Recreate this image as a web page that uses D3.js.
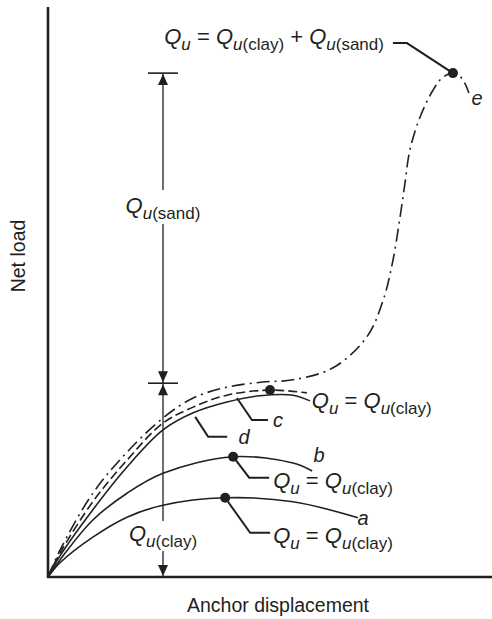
<!DOCTYPE html>
<html><head><meta charset="utf-8">
<script src="https://cdn.jsdelivr.net/npm/d3@7"></script>
<style>
html,body{margin:0;padding:0;background:#fff;}
svg{display:block;}
text{font-family:"Liberation Sans",Arial,Helvetica,sans-serif;fill:#231f20;}
</style></head>
<body>
<svg id="chart" width="492" height="619"></svg>
<script>
// ---- data (arbitrary units: displacement 0-100, load 0-100) ----
const curveA_x = [0, 2.7, 10.1, 17.8, 25.9, 39.9, 55.2, 69.8];
const curveA_y = [0, 2.5, 7.0, 10.5, 12.6, 13.9, 13.2, 10.4];
const curveB_x = [0, 2.7, 10.1, 17.8, 25.9, 41.7, 55.2, 59.5];
const curveB_y = [0, 3.0, 10.0, 14.7, 18.2, 21.1, 20.0, 18.6];
const curveC_x = [0, 2.7, 10.1, 17.8, 25.9, 32.7, 40.3, 47.7, 55.2, 59.0];
const curveC_y = [0, 3.7, 11.8, 19.3, 25.8, 28.8, 30.7, 31.8, 31.9, 30.9];
const curveD_x = [0, 2.7, 10.1, 17.8, 25.9, 32.7, 40.3, 50.0, 58.3];
const curveD_y = [0, 4.2, 13.2, 20.5, 27.0, 29.8, 31.9, 32.8, 32.3];
const curveE_x = [0, 2.7, 10.1, 17.8, 25.9, 32.7, 40.3, 48.4, 55.2, 64.2, 71.8, 75.5, 77.7, 79.3, 80.4, 81.5, 83.8, 86.7, 88.7, 91.2, 93.2, 94.8];
const curveE_y = [0, 4.7, 14.7, 21.9, 27.9, 31.4, 33.3, 34.2, 34.6, 36.7, 42.1, 48.6, 55.6, 63.2, 69.1, 74.9, 80.7, 85.4, 87.5, 88.4, 87.5, 84.9];
const curveNames = ["a", "b", "c", "d", "e"];
const ultimateIdx = {a: 5, b: 5, d: 7, e: 19};   // points marked Qu
const dimX = 25.9;            // x of the dimension line
const qClay = 34.0;           // Qu(clay) level
const qTotal = 88.4;          // Qu = Qu(clay)+Qu(sand)
const xLabel = "Anchor displacement";
const yLabel = "Net load";

// ---- scales ----
const svg = d3.select("#chart");
const x = d3.scaleLinear().domain([0, 100]).range([48, 492]);
const y = d3.scaleLinear().domain([0, 100]).range([577, 7]);
const ink = "#231f20";

const series = {
  a: d3.zip(curveA_x, curveA_y),
  b: d3.zip(curveB_x, curveB_y),
  c: d3.zip(curveC_x, curveC_y),
  d: d3.zip(curveD_x, curveD_y),
  e: d3.zip(curveE_x, curveE_y)
};
const dash = {a: null, b: null, c: null, d: "9,4", e: "13,5,2,5"};
const line = d3.line().x(p => x(p[0])).y(p => y(p[1])).curve(d3.curveCatmullRom.alpha(0.5));

curveNames.forEach(k => {
  svg.append("path").attr("d", line(series[k]))
    .attr("fill", "none").attr("stroke", ink).attr("stroke-width", 1.6)
    .attr("stroke-dasharray", dash[k]);
});

// ---- axes (plain lines, no ticks) ----
svg.append("line").attr("x1", x(0)).attr("x2", x(0)).attr("y1", y(0) + 1).attr("y2", y(100))
  .attr("stroke", ink).attr("stroke-width", 2.6);
svg.append("line").attr("x1", x(0) - 1).attr("x2", x(100)).attr("y1", y(0)).attr("y2", y(0))
  .attr("stroke", ink).attr("stroke-width", 2.6);

svg.append("text").attr("x", 278).attr("y", 612).attr("text-anchor", "middle")
  .style("font-size", "19.5px").text(xLabel);
svg.append("text").attr("transform", "translate(25,256) rotate(-90)").attr("text-anchor", "middle")
  .style("font-size", "19.5px").text(yLabel);

// ---- label helper ----
function qLabel(px, py, parts, anchor) {
  const t = svg.append("text").attr("x", px).attr("y", py).attr("text-anchor", anchor || "start");
  let inSub = false;
  parts.forEach(p => {
    const s = t.append("tspan").text(p.t);
    let dy = 0;
    if (p.sub && !inSub) { dy = 6; inSub = true; }
    if (!p.sub && inSub) { dy = -6; inSub = false; }
    if (dy) s.attr("dy", dy);
    s.style("font-size", p.sub ? "17px" : "22px");
    if (p.it) s.style("font-style", "italic");
  });
  return t;
}
const Qu = [{t: "Q", it: true}, {t: "u", it: true, sub: true}];
const QuClay = [{t: "Q", it: true}, {t: "u", it: true, sub: true}, {t: "(clay)", sub: true}];
const QuSand = [{t: "Q", it: true}, {t: "u", it: true, sub: true}, {t: "(sand)", sub: true}];
const eqClay = [...Qu, {t: " = "}, ...QuClay];

// ---- dots and leaders ----
function dot(k) { const p = series[k][ultimateIdx[k]]; return [x(p[0]), y(p[1])]; }
function leader(pts) {
  svg.append("path").attr("d", d3.line()(pts)).attr("fill", "none")
    .attr("stroke", ink).attr("stroke-width", 2);
}
["a", "b", "d", "e"].forEach(k => {
  const [cx, cy] = dot(k);
  svg.append("circle").attr("cx", cx).attr("cy", cy).attr("r", 5).attr("fill", ink);
});

// a
{ const [cx, cy] = dot("a"); leader([[cx, cy], [cx + 25, cy + 35], [cx + 45, cy + 35]]);
  qLabel(cx + 48, cy + 45, eqClay); }
// b
{ const [cx, cy] = dot("b"); leader([[cx, cy], [cx + 16, cy + 21], [cx + 36, cy + 21]]);
  qLabel(cx + 40, cy + 31, eqClay); }
// c / d  Qu label at the end of curve d
{ const pe = series.d[series.d.length - 1];
  qLabel(x(pe[0]) + 5, y(pe[1]) + 15, eqClay); }
// e
{ const [cx, cy] = dot("e"); leader([[cx, cy], [cx - 46, cy - 30], [cx - 60, cy - 30]]);
  qLabel(cx - 69, cy - 29, [...Qu, {t: " = "}, ...QuClay, {t: " + "}, ...QuSand], "end"); }

// curve letter leaders
{ const p = series.c[6]; const px = x(p[0]) + 10, py = y(p[1]) - 4;
  leader([[px, py], [px + 15, py + 22], [px + 31, py + 22]]); }
{ const p = series.c[5]; const px = x(p[0]) + 2, py = y(p[1]) + 4;
  leader([[px, py], [px + 13, py + 20], [px + 32, py + 20]]); }

const letterPos = {a: [363, 525], b: [319, 462], c: [278, 427], d: [244, 444], e: [477, 105]};
curveNames.forEach(k => {
  svg.append("text").attr("x", letterPos[k][0]).attr("y", letterPos[k][1]).attr("text-anchor", "middle")
    .style("font-size", "20px").style("font-style", "italic").text(k);
});

// ---- dimension arrows ----
const dx = x(dimX);
function vline(y1, y2) {
  svg.append("line").attr("x1", dx).attr("x2", dx).attr("y1", y1).attr("y2", y2)
    .attr("stroke", ink).attr("stroke-width", 1.3);
}
function arrow(tipY, dir) { // dir -1: pointing up, +1 pointing down
  const h = 11, w = 5;
  svg.append("path").attr("d", `M${dx},${tipY} L${dx - w},${tipY - dir * h} L${dx + w},${tipY - dir * h} Z`)
    .attr("fill", ink);
}
function hbar(yy) {
  svg.append("line").attr("x1", dx - 15).attr("x2", dx + 15).attr("y1", yy).attr("y2", yy)
    .attr("stroke", ink).attr("stroke-width", 1.6);
}
const yTop = y(qTotal), yMid = y(qClay), yBot = y(0);
hbar(yTop); hbar(yMid);
vline(yTop, 190); vline(224, yMid);
vline(yMid, 521); vline(551, yBot);
arrow(yTop + 1, -1); arrow(yMid - 1, 1); arrow(yMid + 1, -1); arrow(yBot - 1, 1);
qLabel(dx, 213, QuSand, "middle");
qLabel(dx, 541, QuClay, "middle");
</script>
</body></html>
